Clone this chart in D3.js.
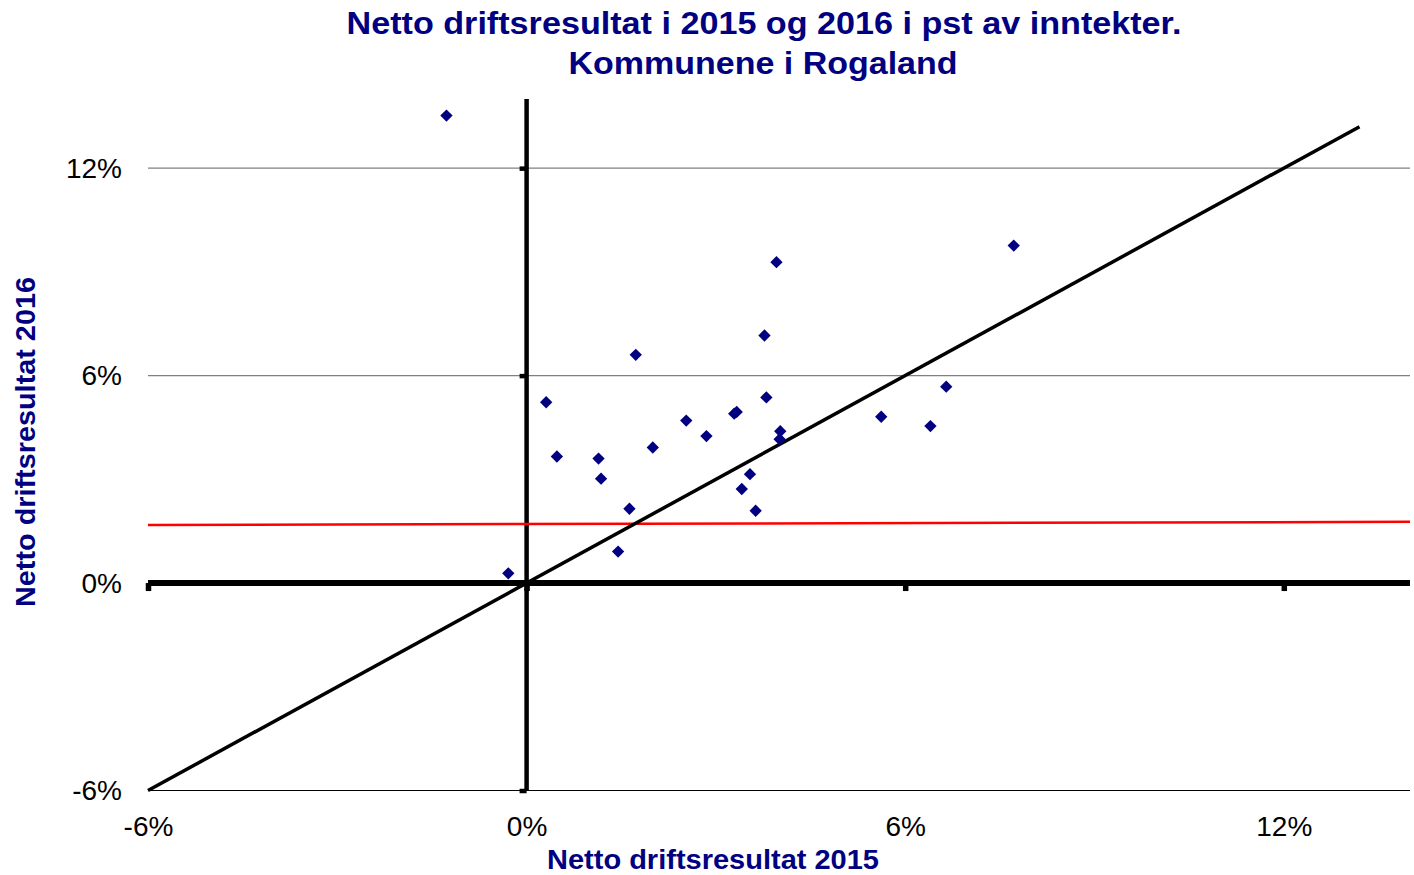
<!DOCTYPE html>
<html>
<head>
<meta charset="utf-8">
<script src="https://cdn.jsdelivr.net/npm/d3@7"></script>
<style>
  body { margin: 0; background: #fff; }
  text { font-family: "Liberation Sans", Arial, sans-serif; }
</style>
</head>
<body>
<script>
// netto driftsresultat i pst, 2015 (x) og 2016 (y), 26 kommuner
const res2015 = [-1.27, 3.96, 3.77, 1.73, 0.31, 3.80, 3.29, 3.33, 2.53, 2.85, 4.02, 4.01, 2.00,
                 0.48, 1.14, 1.18, 3.54, 3.41, 1.63, 3.63, 1.45, -0.29, 7.72, 6.65, 5.62, 6.40];
const res2016 = [13.52, 9.28, 7.16, 6.60, 5.23, 5.37, 4.90, 4.95, 4.70, 4.25, 4.39, 4.16, 3.92,
                 3.66, 3.60, 3.02, 3.15, 2.72, 2.15, 2.09, 0.91, 0.28, 9.76, 5.68, 4.81, 4.54];
const diagLine = [[-6, -6], [13.2, 13.2]];
const redLine = [[-6, 1.68], [14, 1.77]];
const ticks = [-6, 0, 6, 12];
const gridTicks = [6, 12];

const w = 1414, h = 875;
const navy = "#000080";

const x = d3.scaleLinear().domain([-6, 14]).range([148, 1410]);
const y = d3.scaleLinear().domain([-6, 14]).range([790.5, 99]);

const svg = d3.select("body").append("svg")
  .attr("width", w)
  .attr("height", h);

// gridlines
svg.selectAll("line.grid")
  .data(gridTicks)
  .enter().append("line")
  .attr("class", "grid")
  .attr("x1", x(-6)).attr("x2", x(14))
  .attr("y1", d => y(d)).attr("y2", d => y(d))
  .attr("stroke", "#808080")
  .attr("stroke-width", 1.3);

// bottom border line
svg.append("line")
  .attr("x1", x(-6)).attr("x2", x(14))
  .attr("y1", y(-6)).attr("y2", y(-6))
  .attr("stroke", "#000")
  .attr("stroke-width", 1.2);

// tick labels
const xLab = svg.append("g")
  .attr("transform", `translate(0,${y(-6)})`)
  .call(d3.axisBottom(x).tickValues(ticks).tickSize(0).tickPadding(26).tickFormat(d => d + "%"));
xLab.select(".domain").remove();
xLab.selectAll("text").attr("font-size", 28).attr("fill", "#000")
  .style("font-family", '"Liberation Sans", Arial, sans-serif');

const yLab = svg.append("g")
  .attr("transform", `translate(${x(-6)},0)`)
  .call(d3.axisLeft(y).tickValues(ticks).tickSize(0).tickPadding(26).tickFormat(d => d + "%"));
yLab.select(".domain").remove();
yLab.selectAll("text").attr("font-size", 28).attr("fill", "#000")
  .style("font-family", '"Liberation Sans", Arial, sans-serif');

// axes through origin
const xAx = svg.append("g")
  .attr("transform", `translate(0,${y(0)})`)
  .call(d3.axisBottom(x).tickValues(ticks).tickSize(8).tickFormat(""));
xAx.select(".domain").attr("stroke-width", 6).attr("d", `M${x(-6)},0H${x(14)}`);
xAx.selectAll(".tick line").attr("stroke-width", 5.5);

const yAx = svg.append("g")
  .attr("transform", `translate(${x(0)},0)`)
  .call(d3.axisLeft(y).tickValues([-6, 6, 12]).tickSize(7).tickFormat(""));
yAx.select(".domain").attr("stroke-width", 4.5).attr("d", `M0,${y(14)}V${y(-6)}`);
yAx.selectAll(".tick line").attr("stroke-width", 4.5);

const line = d3.line().x(d => x(d[0])).y(d => y(d[1]));

svg.append("path")
  .attr("d", line(redLine))
  .attr("fill", "none")
  .attr("stroke", "#ff0000")
  .attr("stroke-width", 2.5);

svg.append("path")
  .attr("d", line(diagLine))
  .attr("fill", "none")
  .attr("stroke", "#000")
  .attr("stroke-width", 3.5);

// points
const diamond = d3.symbol().type(d3.symbolSquare).size(76);
svg.selectAll("path.dot")
  .data(res2015.map((v, i) => [v, res2016[i]]))
  .enter().append("path")
  .attr("class", "dot")
  .attr("d", diamond)
  .attr("transform", d => `translate(${x(d[0])},${y(d[1])}) rotate(45)`)
  .attr("fill", navy);

// titles
svg.append("text")
  .attr("x", 764).attr("y", 34)
  .attr("text-anchor", "middle")
  .attr("font-size", 31).attr("font-weight", "bold").attr("fill", navy)
  .attr("textLength", 835).attr("lengthAdjust", "spacingAndGlyphs")
  .text("Netto driftsresultat i 2015 og 2016 i pst av inntekter.");

svg.append("text")
  .attr("x", 763).attr("y", 74)
  .attr("text-anchor", "middle")
  .attr("font-size", 31).attr("font-weight", "bold").attr("fill", navy)
  .attr("textLength", 389).attr("lengthAdjust", "spacingAndGlyphs")
  .text("Kommunene i Rogaland");

svg.append("text")
  .attr("x", 713).attr("y", 869)
  .attr("text-anchor", "middle")
  .attr("font-size", 27).attr("font-weight", "bold").attr("fill", navy)
  .attr("textLength", 332).attr("lengthAdjust", "spacingAndGlyphs")
  .text("Netto driftsresultat 2015");

svg.append("text")
  .attr("transform", "translate(35,442) rotate(-90)")
  .attr("text-anchor", "middle")
  .attr("font-size", 27).attr("font-weight", "bold").attr("fill", navy)
  .attr("textLength", 330).attr("lengthAdjust", "spacingAndGlyphs")
  .text("Netto driftsresultat 2016");
</script>
</body>
</html>
